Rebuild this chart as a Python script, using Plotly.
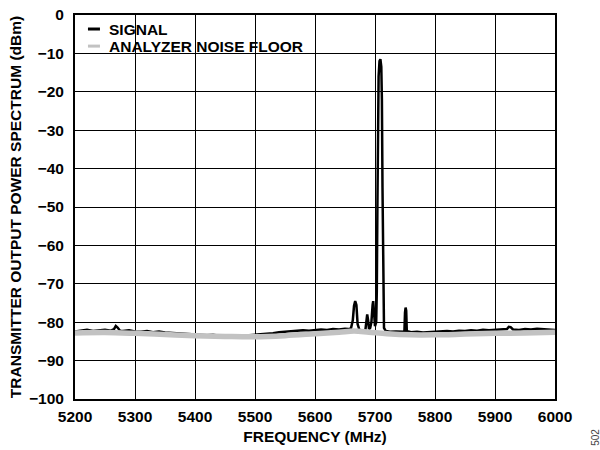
import plotly.graph_objects as go

# ---- data ----
sig_freq = [5200, 5210, 5220, 5230, 5240, 5250, 5260, 5265, 5268, 5271, 5275, 5280, 5290,
            5300, 5310, 5320, 5330, 5340, 5350, 5360, 5370, 5380, 5390,
            5400, 5410, 5420, 5430, 5440, 5450, 5460, 5470, 5480, 5490,
            5500, 5510, 5520, 5530, 5540, 5550, 5560, 5570, 5580, 5590,
            5600, 5610, 5620, 5630, 5640, 5650, 5655, 5660, 5663, 5665, 5667, 5669, 5671, 5674,
            5678, 5681, 5684, 5686, 5687, 5688.5, 5690, 5692, 5694, 5696, 5697, 5698, 5700,
            5702, 5703, 5704, 5705, 5706, 5707.5, 5709, 5710.5, 5711.5, 5712.5, 5713.5, 5715,
            5718, 5725, 5735, 5745, 5749, 5750, 5751, 5752, 5753, 5760, 5770, 5780, 5790,
            5800, 5810, 5820, 5830, 5840, 5850, 5860, 5870, 5880, 5890,
            5900, 5910, 5920, 5923, 5926, 5930, 5940, 5950, 5960, 5970, 5980, 5990, 6000]
sig_db = [-82.4, -82.2, -82.0, -82.3, -82.1, -82.0, -82.2, -81.8, -81.0, -81.4, -82.2, -82.3, -82.1,
          -82.4, -82.5, -82.3, -82.6, -82.4, -82.7, -82.8, -82.9, -83.0, -83.2,
          -83.3, -83.3, -83.4, -83.3, -83.5, -83.4, -83.5, -83.4, -83.5, -83.4,
          -83.3, -83.2, -83.0, -82.9, -82.6, -82.5, -82.4, -82.3, -82.1, -82.2,
          -82.0, -81.9, -82.0, -81.8, -81.9, -81.7, -81.8, -81.6, -79.5, -75.8, -74.5, -75.5, -80.5, -82.0,
          -82.2, -82.4, -82.0, -78.8, -78.0, -79.5, -81.8, -81.5, -80.0, -75.5, -74.5, -76.5, -81.0,
          -80.0, -72.0, -50.0, -28.0, -16.0, -12.0, -11.5, -13.5, -22.0, -45.0, -70.0, -81.5,
          -82.3, -82.5, -82.4, -82.6, -82.5, -77.5, -76.2, -77.0, -82.3, -82.6, -82.5, -82.7, -82.6,
          -82.5, -82.4, -82.3, -82.4, -82.2, -82.3, -82.1, -82.2, -82.0, -82.1,
          -82.0, -81.9, -81.8, -81.2, -81.3, -81.9, -82.0, -81.8, -81.9, -81.7, -81.8, -81.9, -82.0]

floor_freq = [5200, 5250, 5300, 5350, 5400, 5450, 5500, 5550, 5600, 5640, 5665, 5690,
              5720, 5760, 5800, 5850, 5900, 5950, 6000]
floor_db = [-82.8, -82.7, -82.9, -83.2, -83.5, -83.7, -83.8, -83.5, -83.0, -82.6, -82.3, -82.6,
            -83.0, -83.3, -83.3, -83.1, -82.9, -82.8, -82.6]

x_ticks = [5200, 5300, 5400, 5500, 5600, 5700, 5800, 5900, 6000]
y_ticks = [0, -10, -20, -30, -40, -50, -60, -70, -80, -90, -100]

series_names = ["SIGNAL", "ANALYZER NOISE FLOOR"]
series_colors = ["#000000", "#c2c2c2"]

FONT = "Liberation Sans, Arial, Helvetica, sans-serif"

fig = go.Figure()
fig.add_trace(go.Scatter(x=sig_freq, y=sig_db, mode="lines", name=series_names[0],
                         line=dict(color=series_colors[0], width=2.5), showlegend=False))
fig.add_trace(go.Scatter(x=floor_freq, y=floor_db, mode="lines", name=series_names[1],
                         line=dict(color=series_colors[1], width=5.5, shape="spline", smoothing=1),
                         showlegend=False))

# custom legend
leg_y = [0.9635, 0.919]
for name, col, yy in zip(series_names, series_colors, leg_y):
    fig.add_shape(type="line", xref="paper", yref="paper", x0=0.027, x1=0.052, y0=yy, y1=yy,
                  line=dict(color=col, width=3))
    fig.add_annotation(xref="paper", yref="paper", x=0.067, y=yy, text=name, showarrow=False,
                       xanchor="left", yanchor="middle",
                       font=dict(family=FONT, size=15.5, color="#000", weight="bold"))

fig.add_annotation(xref="paper", yref="paper", x=1.083, y=-0.099, text="502", showarrow=False,
                   textangle=-90, font=dict(family=FONT, size=10, color="#444"),
                   xanchor="center", yanchor="middle")

axis_common = dict(showgrid=True, gridcolor="#000000", gridwidth=1, showline=True,
                   linecolor="#000000", linewidth=2, mirror=True, zeroline=False,
                   ticks="", ticklabeloverflow="allow",
                   tickfont=dict(family=FONT, size=15.5, color="#000", weight="bold"),
                   title_font=dict(family=FONT, size=15.5, color="#000", weight="bold"))

fig.update_xaxes(range=[5200, 6000], tickvals=x_ticks, ticktext=[str(v) for v in x_ticks],
                 title_text="FREQUENCY (MHz)", title_standoff=8, ticklabelstandoff=2,
                 **axis_common)
fig.update_yaxes(range=[-100, 0], tickvals=y_ticks, ticktext=[("−" + str(-v)) if v < 0 else "0" for v in y_ticks],
                 title_text="TRANSMITTER OUTPUT POWER SPECTRUM (dBm)", title_standoff=4,
                 ticklabelstandoff=6, **axis_common)

fig.update_layout(width=600, height=450, margin=dict(l=75, r=45, t=15, b=51, autoexpand=False),
                  paper_bgcolor="white", plot_bgcolor="white", showlegend=False)

# remove the default 8px page margin so the figure fills the window
fig.write_html("out.html", config={"displayModeBar": False},
               post_script="document.body.style.margin='0';")
